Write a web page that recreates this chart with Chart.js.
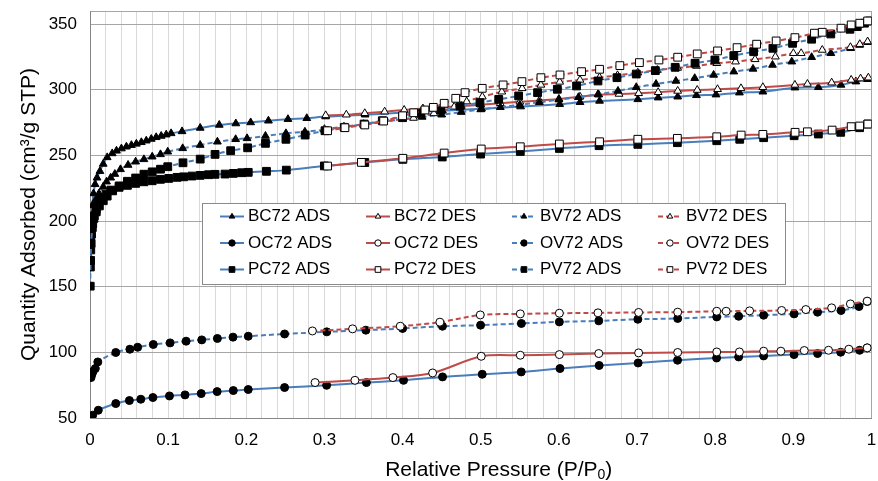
<!DOCTYPE html>
<html>
<head>
<meta charset="utf-8">
<script src="https://cdn.jsdelivr.net/npm/chart.js@4.4.0/dist/chart.umd.min.js"></script>
<style>
  html, body { margin: 0; padding: 0; background: #fff; }
</style>
</head>
<body>
<canvas id="isoterma" width="878" height="481"></canvas>
<script>
// Isotermas de N2: pares [P/P0, cantidad adsorbida]
const bc72Ads = [[0.0005,172],[0.001,188],[0.002,203],[0.003,212],[0.0045,221],[0.0065,228],[0.009,233],[0.0127,238],[0.0169,243.5],[0.022,248.5],[0.0284,251.5],[0.0339,253.5],[0.0402,255.2],[0.0466,256.6],[0.053,257.8],[0.0593,258.8],[0.0657,260],[0.072,261.2],[0.0784,262.5],[0.0847,263.8],[0.0911,264.8],[0.0975,265.8],[0.1038,266.8],[0.1178,268.3],[0.141,270.9],[0.1654,273.2],[0.1866,274.3],[0.2056,275.1],[0.2283,276.4],[0.2533,277.6],[0.2774,278.3],[0.3015,279.6],[0.352,281],[0.401,282.6],[0.451,284],[0.501,285.5],[0.551,287.2],[0.601,289],[0.627,290.5],[0.652,291.5],[0.701,292.7],[0.727,294],[0.752,294.7],[0.776,295.8],[0.801,296.3],[0.831,297.8],[0.861,298.5],[0.902,301.6],[0.932,301.9],[0.961,303.7],[0.98,306.2],[0.995,308]];
const bc72Des = [[0.3016,280.5],[0.328,281],[0.3516,282.1],[0.377,283.3],[0.402,284.6],[0.426,285.7],[0.449,286.6],[0.475,287.6],[0.5,288.6],[0.525,289.7],[0.55,290.8],[0.575,291.9],[0.6,293],[0.627,294.7],[0.651,296.3],[0.677,296.8],[0.702,297.3],[0.727,298.1],[0.752,299.1],[0.777,299.8],[0.803,300.4],[0.833,301.1],[0.861,301.9],[0.902,303.7],[0.918,304.4],[0.949,305.4],[0.974,307.5],[0.986,308.5],[0.996,309.2]];
const bv72Ads = [[0.0005,170],[0.001,182],[0.002,195],[0.0035,205],[0.0055,212],[0.008,217],[0.0115,221],[0.0169,226.1],[0.0212,230],[0.0265,233],[0.0318,235.8],[0.039,239.4],[0.0487,242.7],[0.0584,245.2],[0.069,247],[0.0796,249],[0.0902,250.8],[0.0995,252.8],[0.1186,255.4],[0.141,257.9],[0.163,260.4],[0.1864,262.3],[0.201,263],[0.2245,264.8],[0.2507,266.8],[0.275,268],[0.3,269.5],[0.325,271.4],[0.35,273.5],[0.375,275.5],[0.4,277.5],[0.425,279.3],[0.45,281],[0.475,283],[0.5,285],[0.525,286.7],[0.55,288.5],[0.575,290.5],[0.6,292.5],[0.625,294.3],[0.65,296.5],[0.6756,299.1],[0.699,301.9],[0.7243,304.4],[0.7497,306.7],[0.7738,308.8],[0.798,311.3],[0.8238,313.8],[0.8484,315.9],[0.8733,318.9],[0.898,321.4],[0.9234,324.8],[0.948,327.8],[0.9733,331.6],[0.9848,334.1],[0.9953,336.2]];
const bv72Des = [[0.3,270],[0.325,271.8],[0.35,273.8],[0.375,275.8],[0.4,277.6],[0.414,278.5],[0.44,282],[0.466,287],[0.482,291],[0.502,294.7],[0.527,298.5],[0.553,301.1],[0.577,303.7],[0.601,306],[0.627,307.5],[0.652,309.4],[0.675,311],[0.701,313],[0.726,315],[0.752,316.6],[0.776,318.1],[0.802,320.2],[0.826,321.4],[0.851,323.2],[0.877,325.2],[0.9,327.8],[0.91,327.8],[0.937,330.3],[0.973,332.4],[0.985,334.7],[0.995,336.7]];
const oc72Ads = [[0.0034,52.1],[0.0106,55.9],[0.033,61],[0.0504,63.3],[0.065,64.3],[0.0805,65.6],[0.1017,66.8],[0.1216,67.6],[0.1423,68.6],[0.1627,70.1],[0.1834,70.9],[0.2025,71.7],[0.249,73.2],[0.3028,74.9],[0.3537,77],[0.4012,78.7],[0.4511,81.3],[0.5019,83.3],[0.5518,85.1],[0.6014,87.7],[0.6515,90],[0.7014,91.9],[0.7518,94],[0.8018,95.7],[0.83,96.5],[0.862,97.3],[0.9009,98.3],[0.931,99.1],[0.9606,100.1],[0.9848,101.6],[0.9945,103.4]];
const oc72Des = [[0.288,77],[0.339,78.7],[0.3876,80.8],[0.4384,84.3],[0.5006,97],[0.5506,97.8],[0.6006,98.3],[0.651,99.1],[0.702,99.6],[0.752,99.9],[0.802,100.3],[0.831,100.3],[0.862,100.9],[0.884,100.9],[0.914,101.4],[0.945,101.6],[0.971,102.4],[0.9945,103.4]];
const ov72Ads = [[0.0013,80.8],[0.0025,83.3],[0.004,85.6],[0.0068,87.7],[0.01,92.7],[0.033,99.9],[0.051,102.4],[0.061,103.9],[0.081,106],[0.1025,107.2],[0.123,108.5],[0.143,109.5],[0.163,110.6],[0.183,111.6],[0.2025,112.3],[0.249,114],[0.303,115.6],[0.353,116.9],[0.4,118.2],[0.451,119.9],[0.4998,120.7],[0.552,122],[0.6006,123.2],[0.651,124],[0.701,125.2],[0.752,125.8],[0.802,127],[0.83,127.5],[0.862,128.3],[0.901,129.3],[0.931,130.6],[0.961,131.9],[0.984,134.9],[0.9945,138.7]];
const ov72Des = [[0.2846,116.3],[0.336,117.9],[0.397,119.9],[0.4477,123],[0.4994,128.5],[0.5506,129.3],[0.6006,129.8],[0.65,130.1],[0.702,130.4],[0.752,130.6],[0.802,131.3],[0.814,131.3],[0.844,131.6],[0.885,131.9],[0.916,132.6],[0.949,133.9],[0.973,136.9],[0.9945,139]];
const pc72Ads = [[0.0005,165],[0.001,178],[0.002,190],[0.0035,198],[0.0055,204],[0.008,209],[0.011,213],[0.015,217],[0.0205,220.5],[0.0267,223.6],[0.0373,225.7],[0.0479,227.2],[0.0584,228.7],[0.069,229.9],[0.0796,230.7],[0.0902,231.8],[0.1008,232.5],[0.1114,233.3],[0.1198,233.7],[0.1305,234.3],[0.141,234.8],[0.1516,235.3],[0.16,235.6],[0.1728,235.8],[0.1834,236.3],[0.194,236.8],[0.2025,237.1],[0.2258,237.9],[0.2512,238.8],[0.2999,242],[0.3516,244.6],[0.4003,247],[0.4507,248.8],[0.4998,251],[0.5506,253],[0.6006,255.3],[0.6514,257.4],[0.701,258.4],[0.7516,259.7],[0.802,261.2],[0.8314,262.3],[0.862,263.5],[0.901,265],[0.932,266.3],[0.9606,267.6],[0.9848,271.1],[0.9953,273.9]];
const pc72Des = [[0.304,241.9],[0.3473,244.7],[0.4003,247.8],[0.4532,251.8],[0.5006,254.9],[0.5506,256.6],[0.6006,258.7],[0.652,260.4],[0.701,262.3],[0.7516,263],[0.802,264.2],[0.8332,265.5],[0.861,266],[0.9022,267.6],[0.918,268],[0.9496,269.3],[0.974,271.9],[0.9848,272.4],[0.9953,273.9]];
const pv72Ads = [[0.0003,150.4],[0.0008,170],[0.0015,183],[0.003,195],[0.005,202],[0.008,207],[0.012,211.5],[0.017,215.5],[0.022,219],[0.029,223],[0.0373,226.8],[0.0479,230.3],[0.0584,232.8],[0.069,235.7],[0.0796,237.5],[0.0902,239.5],[0.0995,241.4],[0.119,244.4],[0.141,247.2],[0.16,250.8],[0.18,253.6],[0.2017,255.8],[0.2245,259.2],[0.2507,262.3],[0.2753,265.5],[0.3007,268.8],[0.3253,271.4],[0.3507,273.9],[0.374,276.4],[0.4,279.5],[0.4235,282.1],[0.449,284.6],[0.4735,287.6],[0.499,290.2],[0.523,292.7],[0.5485,295.3],[0.5727,297.8],[0.598,300.4],[0.6226,302.9],[0.65,306.7],[0.6743,309.2],[0.699,312],[0.7234,314.6],[0.7488,317.1],[0.7742,320.2],[0.7996,322.7],[0.8238,326],[0.8492,329],[0.8738,331.6],[0.899,335.4],[0.9234,338.5],[0.9479,342.5],[0.9724,346.1],[0.9818,348.1],[0.991,350.7],[0.9975,352.4]];
const pv72Des = [[0.304,268.8],[0.3262,271.1],[0.3516,273.2],[0.3757,276.2],[0.4,280.2],[0.4142,282.5],[0.4286,284.6],[0.4393,286.6],[0.4532,289.7],[0.468,293.5],[0.4799,297.8],[0.5019,301.1],[0.5286,303.7],[0.5527,306.2],[0.577,309.2],[0.6014,311.3],[0.629,313.8],[0.652,315.6],[0.678,318.4],[0.703,320.7],[0.728,322.7],[0.752,324.8],[0.777,327.3],[0.803,329.6],[0.828,332.1],[0.853,334.7],[0.878,337.2],[0.902,339.7],[0.927,343.1],[0.937,343.8],[0.961,346.9],[0.974,349.4],[0.985,350.7],[0.995,352.4]];

const ticksY = [50, 100, 150, 200, 250, 300, 350];
const topeY = 360;

const FUENTE = '"Liberation Sans", Arial, sans-serif';
const AZUL = '#4A7EBB';
const ROJO = '#BE4B48';

const crearSerie = (etiqueta, pares, color, discontinua, forma, hueca) => ({
    label: etiqueta,
    data: pares.map(([x, y]) => ({ x, y })),
    borderColor: color,
    backgroundColor: color,
    borderWidth: 2,
    borderDash: discontinua ? [5, 3] : [],
    tension: 0.3,
    pointStyle: forma,
    pointRadius: forma === 'rect' ? 5.5 : (forma === 'triangle' ? 4.5 : 4),
    pointBackgroundColor: hueca ? '#fff' : '#000',
    pointBorderColor: '#000',
    pointBorderWidth: 1
});

const series = [
    crearSerie('BC72 ADS', bc72Ads, AZUL, false, 'triangle', false),
    crearSerie('BC72 DES', bc72Des, ROJO, false, 'triangle', true),
    crearSerie('BV72 ADS', bv72Ads, AZUL, true, 'triangle', false),
    crearSerie('BV72 DES', bv72Des, ROJO, true, 'triangle', true),
    crearSerie('OC72 ADS', oc72Ads, AZUL, false, 'circle', false),
    crearSerie('OC72 DES', oc72Des, ROJO, false, 'circle', true),
    crearSerie('OV72 ADS', ov72Ads, AZUL, true, 'circle', false),
    crearSerie('OV72 DES', ov72Des, ROJO, true, 'circle', true),
    crearSerie('PC72 ADS', pc72Ads, AZUL, false, 'rect', false),
    crearSerie('PC72 DES', pc72Des, ROJO, false, 'rect', true),
    crearSerie('PV72 ADS', pv72Ads, AZUL, true, 'rect', false),
    crearSerie('PV72 DES', pv72Des, ROJO, true, 'rect', true)
];
// las series posteriores quedan por encima
series.forEach((s, i) => { s.order = -i; });

// leyenda en recuadro dentro del area de trazado, 4 columnas
const leyenda = {
    id: 'leyenda',
    afterDraw(chart) {
        const ctx = chart.ctx;
        ctx.save();
        ctx.fillStyle = '#fff';
        ctx.fillRect(202, 203, 583, 81);
        ctx.strokeStyle = '#8a8a8a';
        ctx.lineWidth = 1;
        ctx.strokeRect(202.5, 203.5, 583, 81);
        ctx.font = '17px ' + FUENTE;
        ctx.textBaseline = 'middle';
        chart.data.datasets.forEach((ds, i) => {
            const x = 220 + (i % 4) * 146;
            const y = 216.5 + Math.floor(i / 4) * 26.5;
            ctx.strokeStyle = ds.borderColor;
            ctx.lineWidth = 2;
            ctx.setLineDash(ds.borderDash);
            ctx.beginPath();
            ctx.moveTo(x, y);
            ctx.lineTo(x + 24, y);
            ctx.stroke();
            ctx.setLineDash([]);
            ctx.fillStyle = ds.pointBackgroundColor;
            ctx.strokeStyle = '#000';
            ctx.lineWidth = 1;
            Chart.helpers.drawPoint(ctx, {
                pointStyle: ds.pointStyle,
                radius: ds.pointStyle === 'rect' ? 4 : 3.2,
                rotation: 0,
                borderWidth: 1
            }, x + 12, y);
            ctx.fillStyle = '#000';
            ctx.fillText(ds.label, x + 28, y);
        });
        ctx.restore();
    }
};

// titulo del eje X con subindice
const tituloX = {
    id: 'tituloX',
    afterDraw(chart) {
        const ctx = chart.ctx;
        const area = chart.chartArea;
        const partes = [
            ['Relative Pressure (P/P', '21px ' + FUENTE, 0],
            ['0', '14px ' + FUENTE, 5],
            [')', '21px ' + FUENTE, 0]
        ];
        ctx.save();
        let total = 0;
        partes.forEach(([t, f]) => { ctx.font = f; total += ctx.measureText(t).width; });
        let x = (area.left + area.right) / 2 + 18 - total / 2;
        ctx.fillStyle = '#000';
        ctx.textBaseline = 'middle';
        partes.forEach(([t, f, dy]) => {
            ctx.font = f;
            ctx.fillText(t, x, 470 + dy);
            x += ctx.measureText(t).width;
        });
        ctx.restore();
    }
};

Chart.defaults.font.family = FUENTE;
Chart.defaults.color = '#000';

new Chart(document.getElementById('isoterma'), {
    type: 'line',
    data: { datasets: series },
    options: {
        responsive: false,
        animation: false,
        layout: { padding: { top: 11, right: 1, left: 0, bottom: 0 } },
        plugins: {
            legend: { display: false },
            tooltip: { enabled: false }
        },
        scales: {
            x: {
                type: 'linear',
                min: 0,
                max: 1,
                ticks: {
                    stepSize: 0.02,
                    autoSkip: false,
                    maxRotation: 0,
                    padding: 12,
                    font: { size: 17 },
                    callback: (v) => {
                        const c = Math.round(v * 100);
                        return c % 10 === 0 ? String(c / 100) : '';
                    }
                },
                grid: {
                    drawTicks: false,
                    color: (c) => (c.tick && Math.abs(c.tick.value - 1) < 1e-6) ? '#a6a6a6' : '#d9d9d9',
                    lineWidth: 1
                },
                border: { color: '#868686', width: 1 },
                afterFit: (s) => { s.height = 63; s.paddingLeft = 0; s.paddingRight = 0; }
            },
            y: {
                type: 'linear',
                min: ticksY[0],
                max: topeY,
                afterBuildTicks: (s) => {
                    s.ticks = ticksY.concat([topeY]).map(v => ({ value: v }));
                },
                ticks: {
                    padding: 13,
                    font: { size: 17 },
                    callback: (v) => v === topeY ? '' : v
                },
                grid: {
                    drawTicks: false,
                    color: '#a6a6a6',
                    lineWidth: 1
                },
                border: { color: '#868686', width: 1 },
                title: {
                    display: true,
                    text: 'Quantity Adsorbed (cm³/g STP)',
                    font: { size: 21 },
                    padding: { top: 17, bottom: 0 }
                },
                afterFit: (s) => { s.width = 90; s.paddingTop = 0; s.paddingBottom = 0; }
            }
        }
    },
    plugins: [leyenda, tituloX]
});
</script>
</body>
</html>
